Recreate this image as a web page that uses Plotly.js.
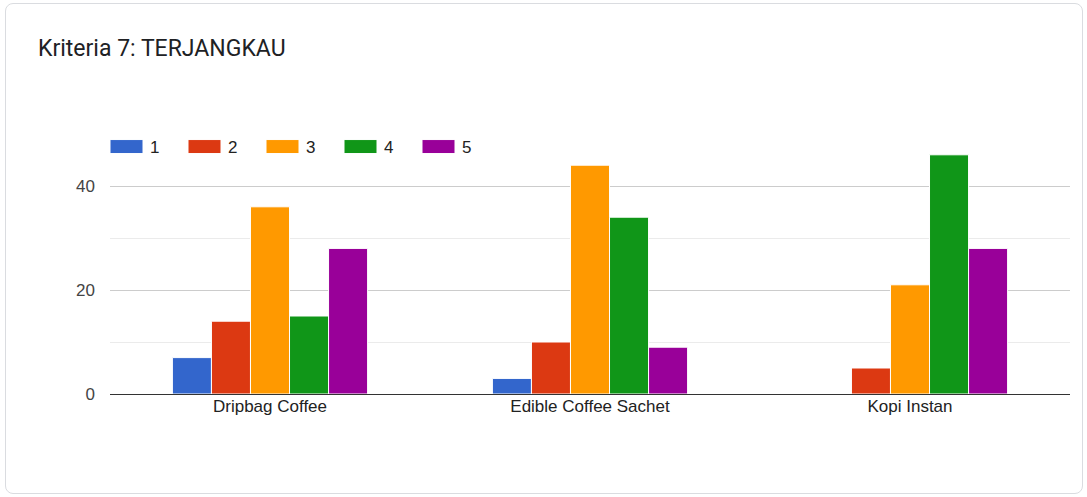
<!DOCTYPE html>
<html>
<head>
<meta charset="utf-8">
<script src="https://cdn.plot.ly/plotly-3.0.1.min.js"></script>
<style>
html,body{margin:0;padding:0;background:#fff;}
#card{position:absolute;left:5px;top:3px;width:1076px;height:489px;border:1px solid #dadce0;border-radius:8px;}
#chart{position:absolute;left:0;top:0;width:1087px;height:497px;}
</style>
</head>
<body>
<div id="card"></div>
<div id="chart"></div>
<script>
const categories = ["Dripbag Coffee", "Edible Coffee Sachet", "Kopi Instan"];
const seriesNames = ["1", "2", "3", "4", "5"];
const s1 = [7, 3, 0];
const s2 = [14, 10, 5];
const s3 = [36, 44, 21];
const s4 = [15, 34, 46];
const s5 = [28, 9, 28];
const yTicks = [0, 20, 40];
const colors = ["#3366cc", "#dc3912", "#ff9900", "#109618", "#990099"];
const allSeries = [s1, s2, s3, s4, s5];

const traces = allSeries.map((vals, i) => ({
  type: "bar",
  name: seriesNames[i],
  x: categories,
  y: vals,
  marker: {color: colors[i], line: {color: "#ffffff", width: 1}},
  hoverinfo: "x+y+name"
}));

const layout = {
  width: 1087, height: 497,
  paper_bgcolor: "rgba(0,0,0,0)",
  plot_bgcolor: "rgba(0,0,0,0)",
  margin: {l: 110, r: 17, t: 134, b: 103},
  title: {text: "Kriteria 7: TERJANGKAU", x: 38/1087, xanchor: "left", xref: "container", y: 1 - 48/497, yanchor: "middle",
          font: {family: "Roboto, 'Liberation Sans', sans-serif", size: 23, color: "#202124"}},
  font: {family: "'Liberation Sans', Arial, sans-serif", size: 17, color: "#222"},
  barmode: "group",
  bargap: 0.39,
  bargroupgap: 0,
  showlegend: true,
  legend: {orientation: "h", x: 0, xanchor: "left", y: 1 + 5/260, yanchor: "top",
           font: {size: 17, color: "#222"}, entrywidth: 33, entrywidthmode: "pixels",
           itemwidth: 30, bgcolor: "rgba(0,0,0,0)", traceorder: "normal"},
  xaxis: {type: "category", showgrid: false, zeroline: false, showline: false, ticks: "",
          tickfont: {size: 17, color: "#222"}},
  yaxis: {range: [0, 50], tickvals: yTicks, ticktext: yTicks.map(String), showgrid: true, gridcolor: "#cccccc",
          gridwidth: 1, zeroline: true, zerolinecolor: "#333333", zerolinewidth: 1, showline: false, ticks: "",
          ticklabelstandoff: 14,
          minor: {tickvals: [10, 30, 50], showgrid: true, gridcolor: "#ebebeb", gridwidth: 1, ticks: ""},
          tickfont: {size: 17, color: "#444"}}
};

function widenSwatches(gd) {
  gd.querySelectorAll(".legend .legendpoints path").forEach(p => {
    p.setAttribute("d", "M13,7H-20V-7H13Z");
  });
}

Plotly.newPlot("chart", traces, layout, {displayModeBar: false}).then(gd => {
  widenSwatches(gd);
  gd.on("plotly_afterplot", () => widenSwatches(gd));
});
</script>
</body>
</html>
